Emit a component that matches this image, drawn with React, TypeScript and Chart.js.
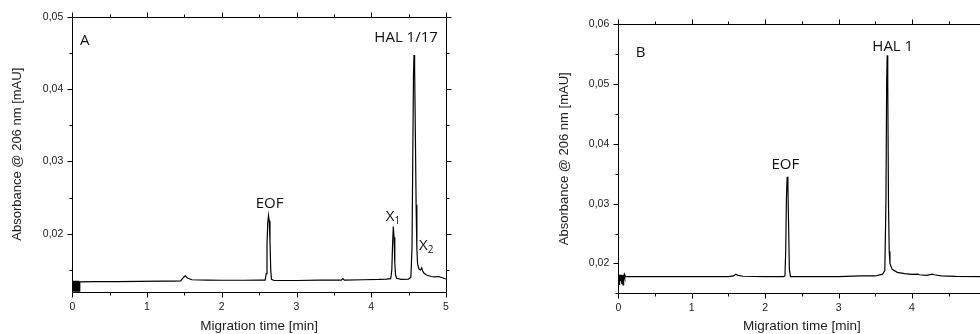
import React, { useEffect, useRef } from "react";
import { Chart, registerables } from "chart.js";

Chart.register(...registerables);

// ---------- Panel A data ----------
const timeA = [
  0, 0.004, 0.008, 0.012, 0.016, 0.02, 0.024, 0.028, 0.032, 0.036, 0.04, 0.044, 0.048, 0.052, 0.056, 0.06, 0.064, 0.068,
  0.072, 0.076, 0.08, 0.084, 0.088, 0.092, 0.1,
  0.3, 0.6, 0.9, 1.2, 1.35, 1.45, 1.49, 1.51, 1.54, 1.6, 1.8, 2.0, 2.3, 2.5, 2.58,
  2.595, 2.605, 2.615, 2.625, 2.635, 2.645, 2.655, 2.665, 2.7,
  3.0, 3.3, 3.6, 3.62, 3.64, 3.9, 4.1, 4.2, 4.26,
  4.275, 4.285, 4.295, 4.305, 4.315, 4.325, 4.34, 4.4, 4.5, 4.53,
  4.545, 4.555, 4.565, 4.572, 4.58, 4.59, 4.6, 4.61, 4.62, 4.64, 4.66, 4.675, 4.69, 4.71, 4.74,
  4.8, 4.85, 4.9, 4.93, 5.0,
];
const absA = [
  0.0134, 0.0118, 0.0134, 0.0118, 0.0135, 0.0118, 0.0134, 0.0118, 0.0135, 0.0118, 0.0134, 0.0118, 0.0135, 0.0118, 0.0134, 0.0118, 0.0135, 0.0118,
  0.0134, 0.0118, 0.0135, 0.0118, 0.0134, 0.0119, 0.01336,
  0.01338, 0.0134, 0.01342, 0.01345, 0.01346, 0.0135, 0.014, 0.0142, 0.0139, 0.01365, 0.0136, 0.01358, 0.01358, 0.0136, 0.0136,
  0.0145, 0.0185, 0.0215, 0.02255, 0.0218, 0.019, 0.015, 0.0137, 0.01355,
  0.01355, 0.0136, 0.0136, 0.0138, 0.0136, 0.01365, 0.0137, 0.01375, 0.0138,
  0.015, 0.0185, 0.021, 0.0195, 0.016, 0.0143, 0.01385, 0.0137, 0.01375, 0.014,
  0.018, 0.03, 0.042, 0.0447, 0.043, 0.034, 0.024, 0.018, 0.0158, 0.0151, 0.015, 0.0153, 0.0148, 0.0145, 0.0143,
  0.0141, 0.01405, 0.0141, 0.014, 0.01375,
];

// ---------- Panel B data ----------
const timeB = [
  0, 0.005, 0.01, 0.015, 0.02, 0.025, 0.03, 0.035, 0.04, 0.045, 0.05, 0.055, 0.06, 0.065, 0.07, 0.075, 0.08, 0.085, 0.09,
  0.1, 0.5, 1.0, 1.5, 1.57, 1.6, 1.63, 1.7, 2.0, 2.25,
  2.27, 2.28, 2.29, 2.3, 2.31, 2.32, 2.33, 2.345, 2.5,
  3.0, 3.3, 3.5, 3.6, 3.63, 3.645, 3.655, 3.662, 3.67, 3.68, 3.69, 3.7, 3.73, 3.8, 3.9,
  4.0, 4.08, 4.1, 4.2, 4.28, 4.3, 4.4, 4.6, 5.0,
];
const absB = [
  0.0181, 0.0172, 0.0181, 0.0164, 0.018, 0.0171, 0.0181, 0.0173, 0.018, 0.0165, 0.0181, 0.0172, 0.018, 0.0164, 0.0181, 0.0174, 0.018, 0.0176, 0.0181,
  0.0178, 0.01778, 0.01778, 0.0178, 0.0179, 0.0182, 0.018, 0.01785, 0.0178, 0.0178,
  0.0179, 0.022, 0.031, 0.0345, 0.033, 0.026, 0.019, 0.0178, 0.01778,
  0.0178, 0.0179, 0.0179, 0.0182, 0.0188, 0.03, 0.05, 0.0548, 0.05, 0.03, 0.022, 0.02, 0.019, 0.0185, 0.0183,
  0.01815, 0.0182, 0.0181, 0.018, 0.0182, 0.0181, 0.0179, 0.01782, 0.0178,
];

// ---------- axes ----------
const xMajor = [0, 1, 2, 3, 4, 5];
const xMinor = [0.5, 1.5, 2.5, 3.5, 4.5];
const yMajorA = [0.02, 0.03, 0.04, 0.05];
const yMinorA = [0.015, 0.025, 0.035, 0.045];
const yMajorB = [0.02, 0.03, 0.04, 0.05, 0.06];
const yMinorB = [0.015, 0.025, 0.035, 0.045, 0.055];

// ---------- annotations ----------
const labelsA = ["A", "HAL 1/17", "EOF", "X", "X"];
const labelSubsA = ["", "", "", "1", "2"];
const labelXA = [0.103, 4.466, 2.639, 4.194, 4.639];
const labelYA = [0.04609, 0.0465, 0.02355, 0.0218, 0.01775];
const labelAlignA = ["left", "center", "center", "left", "left"];

const labelsB = ["B", "EOF", "HAL 1"];
const labelSubsB = ["", "", ""];
const labelXB = [0.237, 2.275, 3.738];
const labelYB = [0.05446, 0.03575, 0.05556];
const labelAlignB = ["left", "center", "center"];

const AXIS_FONT = "'Liberation Sans', Arial, sans-serif";
const ANNOT_FONT = "'Open Sans', 'Noto Sans', sans-serif";

const framePlugin = {
  id: "frameTicks",
  afterDraw(chart: any, _args: any, opts: any) {
    const { ctx, chartArea } = chart;
    const { left, right, top, bottom } = chartArea;
    const xs = chart.scales.x;
    const ys = chart.scales.y;
    const r = (v: number) => Math.round(v) + 0.5;
    ctx.save();
    ctx.strokeStyle = "#000";
    ctx.lineWidth = 1;
    ctx.beginPath();
    ctx.rect(r(left), r(top), Math.round(right) - Math.round(left), Math.round(bottom) - Math.round(top));
    ctx.stroke();
    const tick = (vals: number[], len: number) => {
      ctx.beginPath();
      for (const v of vals) {
        const px = r(xs.getPixelForValue(v));
        ctx.moveTo(px, r(bottom));
        ctx.lineTo(px, r(bottom) + len);
        ctx.moveTo(px, r(top));
        ctx.lineTo(px, r(top) - len);
      }
      ctx.stroke();
    };
    const ytick = (vals: number[], len: number) => {
      ctx.beginPath();
      for (const v of vals) {
        const py = r(ys.getPixelForValue(v));
        ctx.moveTo(r(left), py);
        ctx.lineTo(r(left) - len, py);
        ctx.moveTo(r(right), py);
        ctx.lineTo(r(right) + len, py);
      }
      ctx.stroke();
    };
    tick(opts.xMajor, 5);
    tick(opts.xMinor, 3);
    ytick(opts.yMajor, 5);
    ytick(opts.yMinor, 3);

    // annotations
    ctx.fillStyle = "#111";
    ctx.textBaseline = "alphabetic";
    const L = opts.labels;
    for (let i = 0; i < L.text.length; i++) {
      const px = xs.getPixelForValue(L.x[i]);
      const py = ys.getPixelForValue(L.y[i]);
      ctx.font = `15px ${ANNOT_FONT}`;
      const mainW = ctx.measureText(L.text[i]).width;
      ctx.font = `10px ${ANNOT_FONT}`;
      const subW = L.sub[i] ? ctx.measureText(L.sub[i]).width : 0;
      const total = mainW + subW;
      const x0 = L.align[i] === "center" ? px - total / 2 : px;
      ctx.textAlign = "left";
      ctx.font = `15px ${ANNOT_FONT}`;
      ctx.fillText(L.text[i], x0, py);
      if (L.sub[i]) {
        ctx.font = `10px ${ANNOT_FONT}`;
        ctx.fillText(L.sub[i], x0 + mainW, py + 3);
      }
    }
    ctx.restore();
  },
};

function fmtY(v: number) {
  const k = v * 100;
  if (Math.abs(k - Math.round(k)) > 1e-6) return "";
  return v.toFixed(2).replace(".", ",");
}

type PanelProps = {
  time: number[];
  abs: number[];
  yMin: number;
  yMax: number;
  yMajor: number[];
  yMinor: number[];
  labels: any;
  width: number;
  padTop: number;
  padRight: number;
  yAxisW: number;
  xAxisH: number;
  yTitlePad: number;
};

function Panel(p: PanelProps) {
  const ref = useRef<HTMLCanvasElement>(null);
  useEffect(() => {
    if (!ref.current) return;
    const pts = p.time.map((t, i) => ({ x: t, y: p.abs[i] }));
    const chart = new Chart(ref.current, {
      type: "line",
      data: {
        datasets: [
          {
            data: pts,
            borderColor: "#000",
            borderWidth: 1.2,
            pointRadius: 0,
            tension: 0,
            fill: false,
          },
        ],
      },
      options: {
        responsive: false,
        animation: false,
        events: [],
        layout: { padding: { left: 0, top: p.padTop, right: p.padRight, bottom: 0 } },
        plugins: {
          legend: { display: false },
          tooltip: { enabled: false },
          frameTicks: {
            xMajor,
            xMinor,
            yMajor: p.yMajor,
            yMinor: p.yMinor,
            labels: p.labels,
          },
        } as any,
        scales: {
          x: {
            type: "linear",
            min: 0,
            max: 5,
            grid: { display: false, drawTicks: false },
            border: { display: false },
            ticks: {
              stepSize: 1,
              autoSkip: false,
              maxRotation: 0,
              padding: 9,
              color: "#222",
              font: { family: AXIS_FONT, size: 10.5 },
              callback: (v: any) => String(v),
            },
            title: {
              display: true,
              text: "Migration time [min]",
              color: "#222",
              font: { family: AXIS_FONT, size: 13.5 },
              padding: { top: 0, bottom: 0 },
            },
            afterFit: (s: any) => {
              s.height = p.xAxisH;
            },
          },
          y: {
            type: "linear",
            min: p.yMin,
            max: p.yMax,
            grid: { display: false, drawTicks: false },
            border: { display: false },
            ticks: {
              stepSize: 0.01,
              autoSkip: false,
              padding: 9,
              color: "#222",
              font: { family: AXIS_FONT, size: 10.5 },
              callback: (v: any) => fmtY(Number(v)),
            },
            title: {
              display: true,
              text: "Absorbance @ 206 nm [mAU]",
              color: "#222",
              font: { family: AXIS_FONT, size: 13 },
              padding: { top: p.yTitlePad, bottom: 0 },
            },
            afterFit: (s: any) => {
              s.width = p.yAxisW;
            },
          },
        },
      } as any,
      plugins: [framePlugin],
    });
    return () => chart.destroy();
  }, []);
  return <canvas ref={ref} width={p.width} height={334} style={{ display: "block", width: p.width, height: 334 }} />;
}

export default function App() {
  return (
    <div
      style={{
        position: "absolute",
        left: 0,
        top: 0,
        width: 980,
        height: 334,
        overflow: "hidden",
        background: "#fff",
      }}
    >
      <div style={{ position: "absolute", left: 0, top: 0 }}>
        <Panel
          time={timeA}
          abs={absA}
          yMin={0.012}
          yMax={0.05}
          yMajor={yMajorA}
          yMinor={yMinorA}
          labels={{ text: labelsA, sub: labelSubsA, x: labelXA, y: labelYA, align: labelAlignA }}
          width={490}
          padTop={16.7}
          padRight={44}
          yAxisW={72.3}
          xAxisH={42.3}
          yTitlePad={9.7}
        />
      </div>
      <div style={{ position: "absolute", left: 540, top: 0 }}>
        <Panel
          time={timeB}
          abs={absB}
          yMin={0.015}
          yMax={0.06}
          yMajor={yMajorB}
          yMinor={yMinorB}
          labels={{ text: labelsB, sub: labelSubsB, x: labelXB, y: labelYB, align: labelAlignB }}
          width={470}
          padTop={24.3}
          padRight={24.6}
          yAxisW={78.3}
          xAxisH={40.7}
          yTitlePad={16.2}
        />
      </div>
    </div>
  );
}
